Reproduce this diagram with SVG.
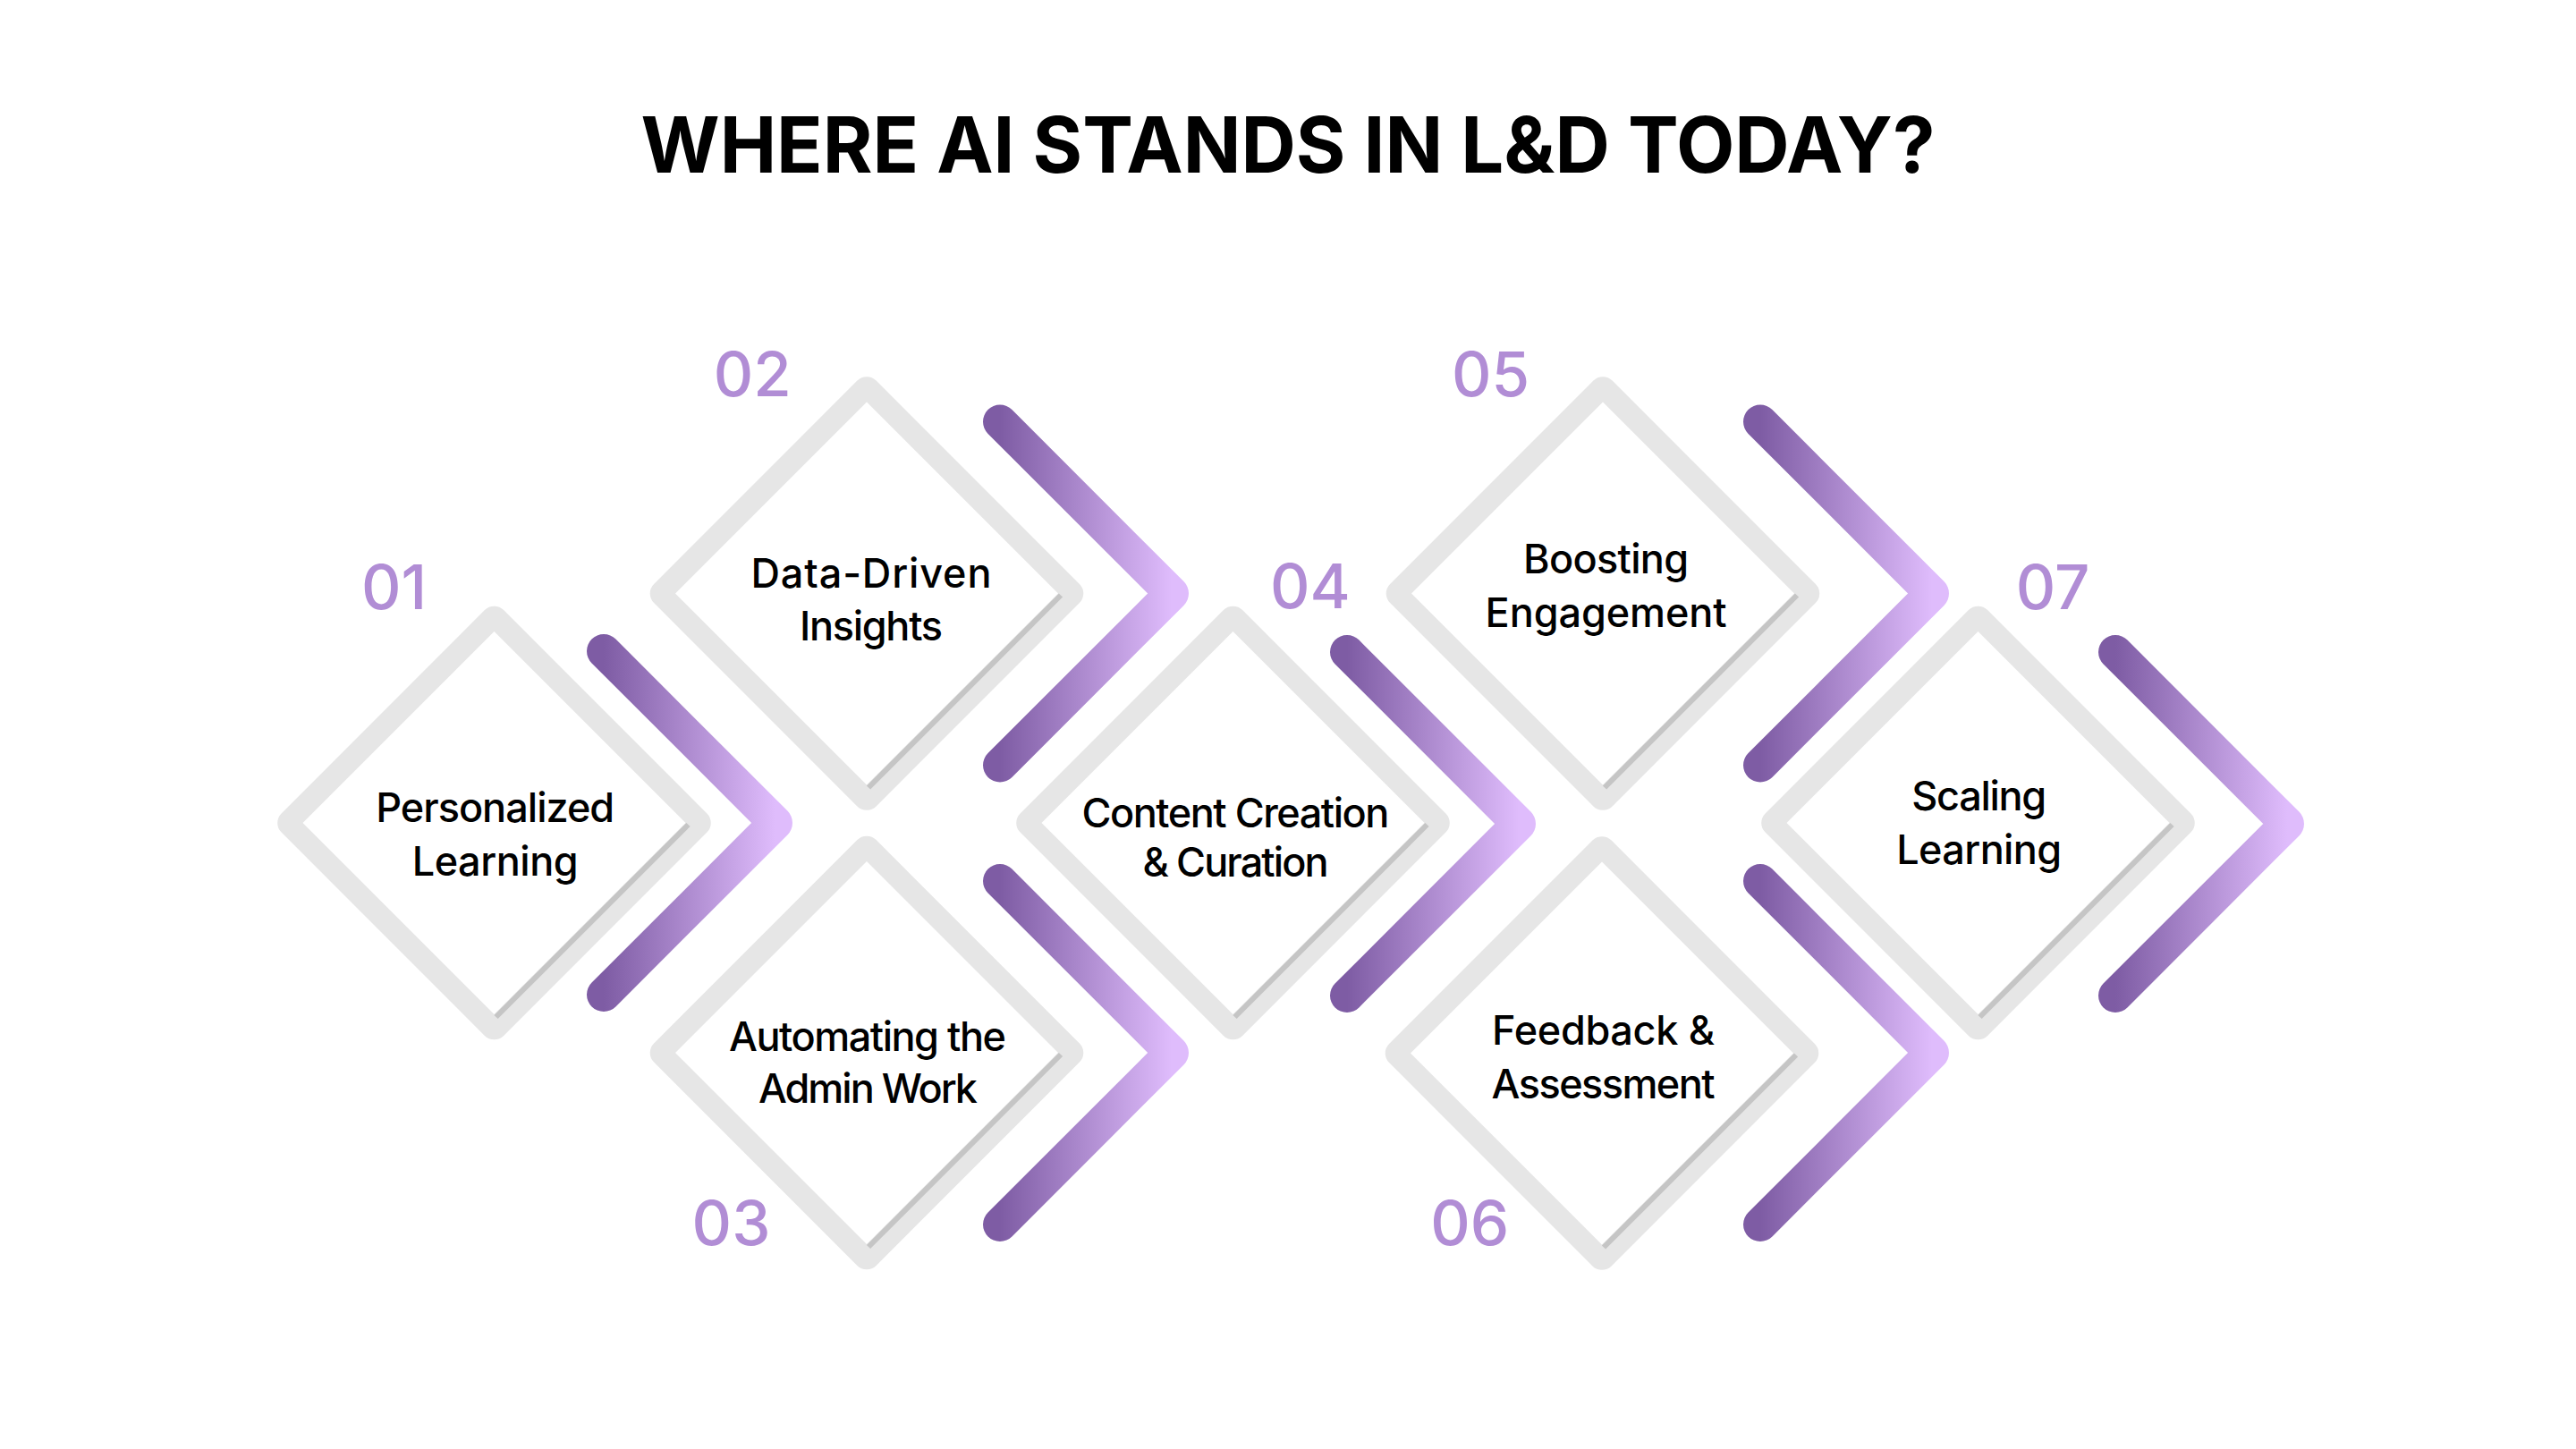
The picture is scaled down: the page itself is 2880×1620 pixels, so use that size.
<svg xmlns="http://www.w3.org/2000/svg" xmlns:xlink="http://www.w3.org/1999/xlink" width="2880" height="1620" viewBox="0 0 2880 1620">
<style>
.title{font-family:Inter,"Noto Sans","Liberation Sans",sans-serif;font-weight:700;font-size:87px;fill:#000}
.lbl{font-family:Inter,"Noto Sans","Liberation Sans",sans-serif;font-weight:500;font-size:45px;fill:#000}
.num{font-family:Inter,"Noto Sans","Liberation Sans",sans-serif;font-weight:500;font-size:69px;fill:#b18dd5}
.ring{fill:#e6e6e6;fill-rule:evenodd}
.shade{stroke:#c5c5c5;stroke-width:6;fill:none}
.chev{fill:none;stroke:url(#chevGrad);stroke-width:38;stroke-linecap:round;stroke-linejoin:round}
</style>
<defs>
<linearGradient id="chevGrad" x1="0" y1="0" x2="1" y2="0">
<stop offset="0" stop-color="#7e5ca4"/>
<stop offset="1" stop-color="#dfbcfc"/>
</linearGradient>
<g id="dia">
<path class="ring" d="M-10.6,-237.9 A15,15 0 0 1 10.6,-237.9 L237.9,-10.6 A15,15 0 0 1 237.9,10.6 L10.6,237.9 A15,15 0 0 1 -10.6,237.9 L-237.9,10.6 A15,15 0 0 1 -237.9,-10.6 Z M0,-214 L-214,0 L0,214 L214,0 Z"/>
<line class="shade" x1="217" y1="2" x2="2" y2="217"/>
</g>
<path id="chevShape" class="chev" d="M0,-192 L192,0 L0,192"/>
</defs>
<rect x="0" y="0" width="2880" height="1620" fill="#ffffff"/>
<text class="title" x="1440" y="193" text-anchor="middle" textLength="1447" lengthAdjust="spacingAndGlyphs">WHERE AI STANDS IN L&amp;D TODAY?</text>
<g id="connectors">
<use xlink:href="#chevShape" href="#chevShape" transform="translate(675,920)"/>
<use xlink:href="#chevShape" href="#chevShape" transform="translate(1118,663.5)"/>
<use xlink:href="#chevShape" href="#chevShape" transform="translate(1118,1177)"/>
<use xlink:href="#chevShape" href="#chevShape" transform="translate(1506,921)"/>
<use xlink:href="#chevShape" href="#chevShape" transform="translate(1968,663.5)"/>
<use xlink:href="#chevShape" href="#chevShape" transform="translate(1968,1177)"/>
<use xlink:href="#chevShape" href="#chevShape" transform="translate(2365,921)"/>
</g>
<g id="node-01">
<use xlink:href="#dia" href="#dia" transform="translate(552.5,920)"/>
<text class="num" x="440.6" y="681" text-anchor="middle">01</text>
<text class="lbl" x="553.7" y="918.8" text-anchor="middle" textLength="267">Personalized</text>
<text class="lbl" x="553.7" y="978.9" text-anchor="middle" textLength="186">Learning</text>
</g>
<g id="node-02">
<use xlink:href="#dia" href="#dia" transform="translate(969,663.5)"/>
<text class="num" x="841.3" y="442.5" text-anchor="middle">02</text>
<text class="lbl" x="974" y="656.8" text-anchor="middle" textLength="269">Data-Driven</text>
<text class="lbl" x="974" y="715.7" text-anchor="middle" textLength="160">Insights</text>
</g>
<g id="node-03">
<use xlink:href="#dia" href="#dia" transform="translate(969,1177)"/>
<text class="num" x="817.5" y="1392.4" text-anchor="middle">03</text>
<text class="lbl" x="970" y="1175.4" text-anchor="middle" textLength="310">Automating the</text>
<text class="lbl" x="970.5" y="1232.6" text-anchor="middle" textLength="245">Admin Work</text>
</g>
<g id="node-04">
<use xlink:href="#dia" href="#dia" transform="translate(1378.5,920)"/>
<text class="num" x="1464.8" y="680.4" text-anchor="middle">04</text>
<text class="lbl" x="1381.4" y="924.6" text-anchor="middle" textLength="344">Content Creation</text>
<text class="lbl" x="1381.5" y="980.4" text-anchor="middle" textLength="208">&amp; Curation</text>
</g>
<g id="node-05">
<use xlink:href="#dia" href="#dia" transform="translate(1792,663.5)"/>
<text class="num" x="1666.5" y="442.5" text-anchor="middle">05</text>
<text class="lbl" x="1795.6" y="641.2" text-anchor="middle" textLength="185">Boosting</text>
<text class="lbl" x="1795.6" y="700.5" text-anchor="middle" textLength="270">Engagement</text>
</g>
<g id="node-06">
<use xlink:href="#dia" href="#dia" transform="translate(1791,1177.5)"/>
<text class="num" x="1643.3" y="1392.4" text-anchor="middle">06</text>
<text class="lbl" x="1792.6" y="1167.9" text-anchor="middle" textLength="249">Feedback &amp;</text>
<text class="lbl" x="1792.6" y="1228.1" text-anchor="middle" textLength="250">Assessment</text>
</g>
<g id="node-07">
<use xlink:href="#dia" href="#dia" transform="translate(2211.5,920)"/>
<text class="num" x="2295" y="681.25" text-anchor="middle">07</text>
<text class="lbl" x="2212.7" y="905.8" text-anchor="middle" textLength="151">Scaling</text>
<text class="lbl" x="2212.7" y="966" text-anchor="middle" textLength="185">Learning</text>
</g>
</svg>
